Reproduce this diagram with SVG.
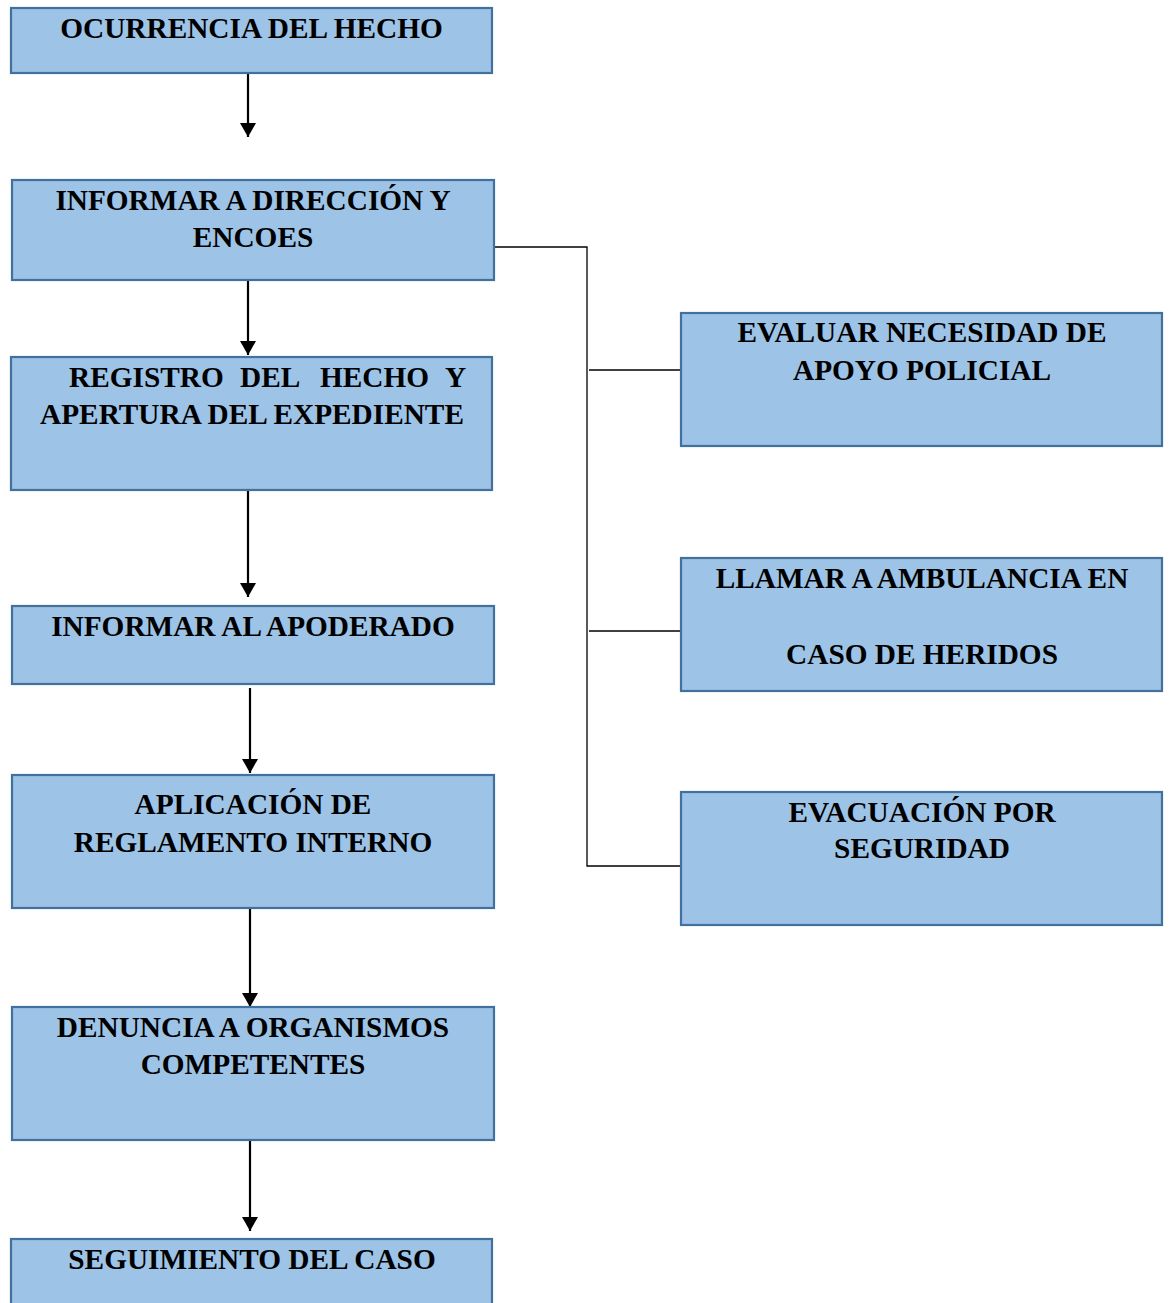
<svg xmlns="http://www.w3.org/2000/svg" width="1171" height="1303" viewBox="0 0 1171 1303">
<defs>
<style>
.box{fill:#9DC3E6;stroke:#41719C;stroke-width:2.2}
.t{font-family:"Liberation Serif","Times New Roman",serif;font-weight:bold;font-size:29.3px;fill:#000;text-anchor:middle}
.arr{stroke:#000;stroke-width:2.2;fill:none}
.br{stroke:#000;stroke-width:1.3;fill:none}
</style>
<marker id="ah" viewBox="0 0 14 16" markerWidth="14" markerHeight="16" refX="14" refY="8" orient="auto" markerUnits="userSpaceOnUse">
<path d="M0,0 L14,8 L0,16 Z" fill="#000"/>
</marker>
</defs>
<rect width="1171" height="1303" fill="#fff"/>
<g id="connectors">
<line class="arr" x1="248" y1="73" x2="248" y2="137" marker-end="url(#ah)"/>
<line class="arr" x1="248" y1="280" x2="248" y2="355" marker-end="url(#ah)"/>
<line class="arr" x1="248" y1="490" x2="248" y2="597" marker-end="url(#ah)"/>
<line class="arr" x1="250" y1="688" x2="250" y2="773" marker-end="url(#ah)"/>
<line class="arr" x1="250" y1="908" x2="250" y2="1007" marker-end="url(#ah)"/>
<line class="arr" x1="250" y1="1140" x2="250" y2="1231" marker-end="url(#ah)"/>
<polyline class="br" points="494,247 587,247 587,866 681,866"/>
<line class="br" x1="589" y1="370" x2="681" y2="370"/>
<line class="br" x1="589" y1="631" x2="681" y2="631"/>
</g>
<g id="n1"><rect class="box" x="11" y="8" width="481" height="65"/><text class="t" x="251.5" y="38">OCURRENCIA DEL HECHO</text></g>
<g id="n2"><rect class="box" x="12" y="180" width="482" height="100"/><text class="t" x="253" y="210">INFORMAR A DIRECCIÓN Y</text><text class="t" x="253" y="247">ENCOES</text></g>
<g id="n3"><rect class="box" x="11" y="357" width="481" height="133"/><text class="t" style="text-anchor:start" y="387"><tspan x="69">REGISTRO</tspan><tspan x="240">DEL</tspan><tspan x="320">HECHO</tspan><tspan x="445">Y</tspan></text><text class="t" x="252" y="424">APERTURA DEL EXPEDIENTE</text></g>
<g id="n4"><rect class="box" x="12" y="606" width="482" height="78"/><text class="t" x="253" y="636">INFORMAR AL APODERADO</text></g>
<g id="n5"><rect class="box" x="12" y="775" width="482" height="133"/><text class="t" x="253" y="814">APLICACIÓN DE</text><text class="t" x="253" y="852">REGLAMENTO INTERNO</text></g>
<g id="n6"><rect class="box" x="12" y="1007" width="482" height="133"/><text class="t" x="253" y="1037">DENUNCIA A ORGANISMOS</text><text class="t" x="253" y="1074">COMPETENTES</text></g>
<g id="n7"><rect class="box" x="11" y="1239" width="481" height="80"/><text class="t" x="252" y="1269">SEGUIMIENTO DEL CASO</text></g>
<g id="n8"><rect class="box" x="681" y="313" width="481" height="133"/><text class="t" x="922" y="342">EVALUAR NECESIDAD DE</text><text class="t" x="922" y="380">APOYO POLICIAL</text></g>
<g id="n9"><rect class="box" x="681" y="558" width="481" height="133"/><text class="t" x="922" y="588">LLAMAR A AMBULANCIA EN</text><text class="t" x="922" y="664">CASO DE HERIDOS</text></g>
<g id="n10"><rect class="box" x="681" y="792" width="481" height="133"/><text class="t" x="922" y="822">EVACUACIÓN POR</text><text class="t" x="922" y="858">SEGURIDAD</text></g>
</svg>
